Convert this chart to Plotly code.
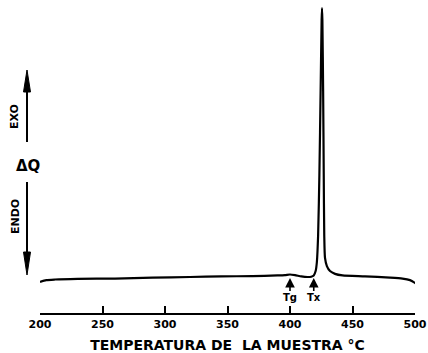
import plotly.graph_objects as go

# Temperature (°C) and DTA signal (arbitrary units)
temp = [200, 205, 212, 230, 260, 290, 320, 345, 370, 390, 396, 400, 404, 409, 414,
        417, 419, 420.5, 421.5, 422.5, 423.5, 424.5, 425.3, 425.6, 425.9, 426.5,
        427, 427.4, 428, 429.5, 432, 436, 442, 460, 480, 490, 496, 500, 503.5]
dq = [9.9, 10.5, 10.7, 10.9, 11.0, 11.3, 11.5, 11.7, 11.8, 12.0, 12.1, 12.3, 12.1, 11.7, 11.5,
      11.6, 12.0, 13.4, 16.3, 24.9, 44.1, 71.2, 93.6, 97.4, 93.6, 71.2,
      44.1, 24.9, 17.6, 15.0, 13.4, 12.5, 12.0, 11.7, 11.3, 11.0, 10.5, 9.6, 8.5]

tick_vals = [200, 250, 300, 350, 400, 450, 500]
tick_text = ["200", "250", "300", "350", "400", "450", "500"]

marker_names = ["Tg", "Tx"]
marker_temps = [400, 419]
marker_dq = [11.2, 11.2]

W, H = 428, 353
ML, MR, MT, MB = 40, 13, 0, 40
PW, PH = W - ML - MR, H - MT - MB

def px(x):
    return (x - ML) / PW

def py(y):
    return (H - MB - y) / PH

fig = go.Figure()
fig.add_trace(go.Scatter(x=temp, y=dq, mode="lines",
                         line=dict(color="black", width=2.2, shape="spline", smoothing=0.6),
                         cliponaxis=False, hoverinfo="skip"))

annotations = []
for name, t, v in zip(marker_names, marker_temps, marker_dq):
    annotations.append(dict(x=t, y=v, xref="x", yref="y", text=f"<b>{name}</b>", showarrow=True,
                            ax=0, ay=20, arrowhead=2, arrowsize=1.2, arrowwidth=1.6,
                            arrowcolor="black", standoff=0,
                            font=dict(family="DejaVu Sans", size=10, color="black")))

annotations += [
    dict(x=px(15), y=py(117), xref="paper", yref="paper", text="<b>EXO</b>", showarrow=False,
         xanchor="center", yanchor="middle",
         textangle=-90, font=dict(family="DejaVu Sans", size=11, color="black")),
    dict(x=px(28), y=py(166), xref="paper", yref="paper", text="<b>ΔQ</b>", showarrow=False,
         xanchor="center", yanchor="middle",
         font=dict(family="DejaVu Sans", size=15, color="black")),
    dict(x=px(15), y=py(217), xref="paper", yref="paper", text="<b>ENDO</b>", showarrow=False,
         xanchor="center", yanchor="middle",
         textangle=-90, font=dict(family="DejaVu Sans", size=11, color="black")),
]

ax_x = px(27)
hw = 3.5 / PW
shapes = [
    dict(type="line", xref="paper", yref="paper", x0=ax_x, x1=ax_x, y0=py(142), y1=py(88),
         line=dict(color="black", width=2)),
    dict(type="path", xref="paper", yref="paper",
         path=f"M {ax_x},{py(70)} L {ax_x-hw},{py(92)} L {ax_x+hw},{py(92)} Z",
         fillcolor="black", line=dict(color="black", width=1)),
    dict(type="line", xref="paper", yref="paper", x0=ax_x, x1=ax_x, y0=py(182), y1=py(255),
         line=dict(color="black", width=2)),
    dict(type="path", xref="paper", yref="paper",
         path=f"M {ax_x},{py(275)} L {ax_x-hw},{py(252)} L {ax_x+hw},{py(252)} Z",
         fillcolor="black", line=dict(color="black", width=1)),
]

fig.update_layout(
    width=W, height=H,
    margin=dict(l=ML, r=MR, t=MT, b=MB),
    paper_bgcolor="white", plot_bgcolor="white",
    showlegend=False,
    annotations=annotations,
    shapes=shapes,
    xaxis=dict(range=[200, 500], tickvals=tick_vals, ticktext=tick_text,
               ticks="inside", ticklen=7, tickwidth=2, tickcolor="black",
               showline=True, linecolor="black", linewidth=2, showgrid=False, zeroline=False,
               tickfont=dict(family="DejaVu Sans", size=11, color="black", weight="bold"),
               title=dict(text="TEMPERATURA DE  LA MUESTRA °C", standoff=10,
                          font=dict(family="DejaVu Sans", size=14, color="black", weight="bold"))),
    yaxis=dict(range=[0, 100], visible=False, showgrid=False, zeroline=False),
)

fig.write_html("out.html")
